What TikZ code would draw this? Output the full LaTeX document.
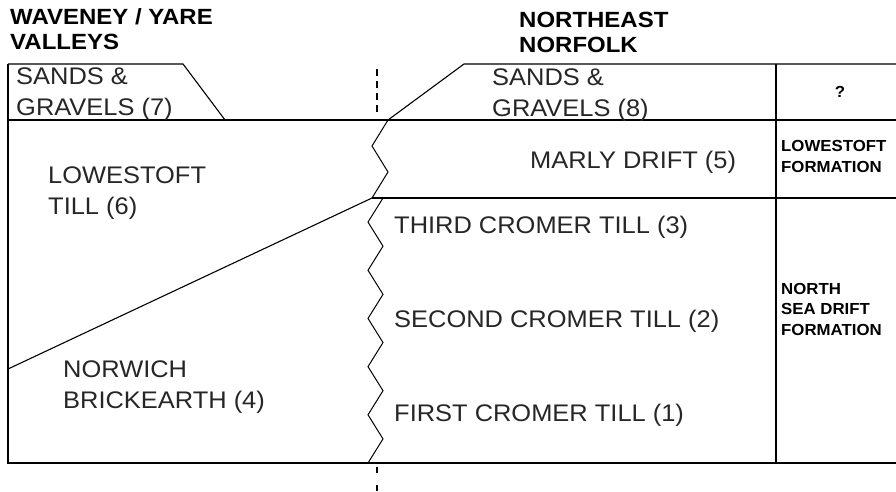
\documentclass[tikz,border=0pt]{standalone}
\usepackage{fontspec}
\setmainfont{Liberation Sans}

\begin{document}
\begin{tikzpicture}[x=1pt,y=-1pt,
    layer/.style={anchor=base west,inner sep=0pt,align=left,xscale=1.06,
        text=black!85,font=\fontsize{24}{31}\selectfont},
    area/.style={anchor=base west,inner sep=0pt,align=left,xscale=1.09,
        font=\bfseries\fontsize{22}{25.5}\selectfont},
    unit/.style={anchor=base west,inner sep=0pt,align=left,xscale=1.05,
        font=\bfseries\fontsize{16}{20.5}\selectfont},
    rule/.style={line width=1.1pt},
    wiggle/.style={line width=1pt,line join=miter}]
    \useasboundingbox (0,0) rectangle (896,492);

    % Area headings (placed at the baseline of their last line)
    \node[area] (waveney) at (10,50) {WAVENEY / YARE\\VALLEYS};
    \node[area] (neast) at (519,53) {NORTHEAST\\NORFOLK};

    % Frame of the section
    \draw[rule] (8,64) -- (8,463) -- (896,463);
    \draw[rule] (8,120) -- (896,120);
    \draw[rule] (372,198) -- (896,198);
    \draw[rule] (776,64) -- (776,463);

    % Sands and gravels wedges
    \draw[rule] (8,64) -- (183,64) -- (225,120);
    \draw[rule] (388,120) -- (464,64) -- (896,64);

    % Lowestoft Till over Norwich Brickearth
    \draw[rule] (8,369) -- (372,198);

    % Interfingering contacts
    \draw[wiggle] (388,120) -- (372,146) -- (388,172) -- (372,198);
    \draw[wiggle] (383,198)
        \foreach \k in {1,...,11} { -- ({383-15*mod(\k,2)},{198+\k*24.09}) };

    % Line of section
    \draw[rule,dash pattern=on 7pt off 5pt] (377,69) -- (377,113);
    \draw[rule,dash pattern=on 6pt off 12pt] (377,467) -- (377,492);

    % Units, Waveney / Yare side
    \node[layer] (sg7) at (16,116) {SANDS \&\\GRAVELS (7)};
    \node[layer] (lt6) at (48,214) {LOWESTOFT\\TILL (6)};
    \node[layer] (nb4) at (63,408) {NORWICH\\BRICKEARTH (4)};

    % Units, Northeast Norfolk side
    \node[layer] (sg8) at (492,117) {SANDS \&\\GRAVELS (8)};
    \node[layer] (md5) at (530,168) {MARLY DRIFT (5)};
    \node[layer] (ct3) at (394,233) {THIRD CROMER TILL (3)};
    \node[layer] (ct2) at (394,327) {SECOND CROMER TILL (2)};
    \node[layer] (ct1) at (394,421) {FIRST CROMER TILL (1)};

    % Formations
    \node[unit,anchor=base] (unk) at (840,98) {?};
    \node[unit] (lowf) at (781,172) {LOWESTOFT\\FORMATION};
    \node[unit] (nsdf) at (781,335) {NORTH\\SEA DRIFT\\FORMATION};
\end{tikzpicture}
\end{document}
